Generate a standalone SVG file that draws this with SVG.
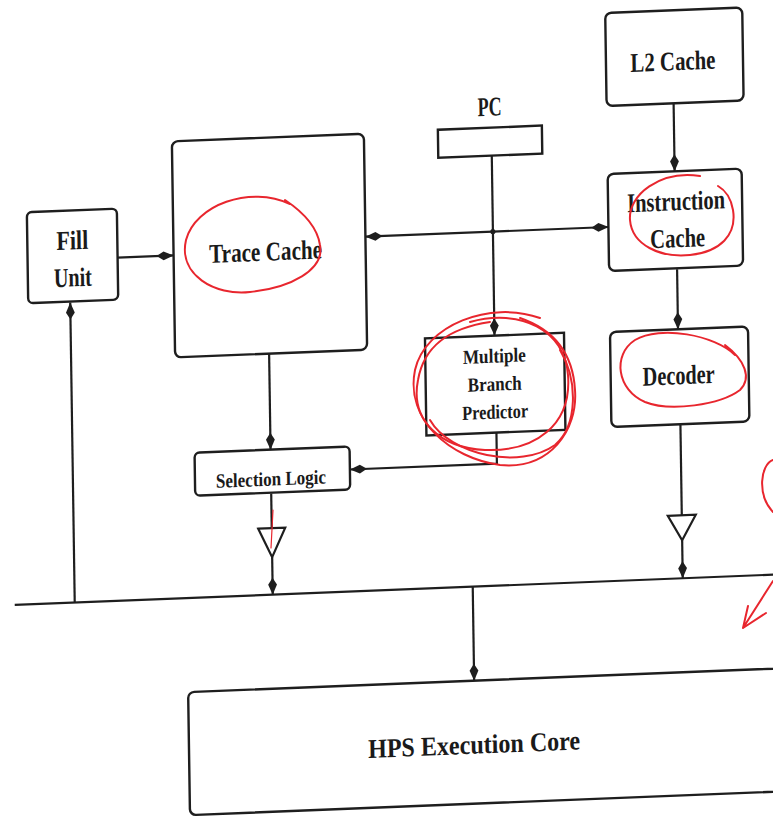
<svg xmlns="http://www.w3.org/2000/svg" width="773" height="817" viewBox="0 0 773 817">
<style>
.box{fill:#fff;stroke:#1e1e1e;stroke-width:2.4}
.ln{fill:none;stroke:#1e1e1e;stroke-width:2.2}
.lb{font-family:"Liberation Serif","Times New Roman",serif;font-weight:bold;font-size:27px;fill:#1a1a1a;text-anchor:middle}
.sm{font-size:20px}
.red{fill:none;stroke:#e8262e;stroke-width:2;stroke-linecap:round;stroke-linejoin:round}
</style>
<defs>
<marker id="ah" markerUnits="userSpaceOnUse" markerWidth="17" markerHeight="10" refX="17" refY="5" orient="auto">
<path d="M0,5 L7,0.6 L17,5 L7,9.4 Z" fill="#1e1e1e"/>
</marker>
</defs>
<rect width="773" height="817" fill="#fff"/>
<g id="diagram" transform="translate(386,408) matrix(1,-0.04,0.015,1,0,0) translate(-386,-408)">
<g id="connectors">
<line class="ln" x1="12" y1="590" x2="830" y2="590"/>
<line class="ln" x1="120" y1="247" x2="176" y2="247" marker-end="url(#ah)"/>
<line class="ln" x1="495.5" y1="236" x2="368" y2="236" marker-end="url(#ah)"/>
<line class="ln" x1="495.5" y1="236" x2="611" y2="236" marker-end="url(#ah)"/>
<circle cx="495.5" cy="236" r="2.6" fill="#1e1e1e"/>
<line class="ln" x1="495.5" y1="160" x2="495.5" y2="340" marker-end="url(#ah)"/>
<line class="ln" x1="678" y1="115" x2="678" y2="183" marker-end="url(#ah)"/>
<line class="ln" x1="679" y1="281" x2="679" y2="341" marker-end="url(#ah)"/>
<line class="ln" x1="680" y1="436" x2="680" y2="527"/>
<path class="ln" d="M666,527 L694,527 L680,552 Z"/>
<line class="ln" x1="680" y1="552" x2="680" y2="590" marker-end="url(#ah)"/>
<line class="ln" x1="270" y1="349" x2="270" y2="445" marker-end="url(#ah)"/>
<path class="ln" d="M496,437 V468 H349" marker-end="url(#ah)"/>
<line class="ln" x1="270" y1="489" x2="270" y2="523.5"/>
<path class="ln" d="M256.5,523.5 L283.5,523.5 L270,552.5 Z"/>
<line class="ln" x1="270" y1="552.5" x2="270" y2="590" marker-end="url(#ah)"/>
<line class="ln" x1="72" y1="590" x2="72" y2="290" marker-end="url(#ah)"/>
<line class="ln" x1="470" y1="590" x2="470" y2="684" marker-end="url(#ah)"/>
</g>
<g id="fill-unit">
<rect class="box" x="30" y="198" width="90" height="91" rx="5"/>
<text class="lb" x="75" y="237" textLength="32" lengthAdjust="spacingAndGlyphs">Fill</text>
<text class="lb" x="75" y="274" textLength="38" lengthAdjust="spacingAndGlyphs">Unit</text>
</g>
<g id="trace-cache">
<rect class="box" x="176" y="133" width="192" height="216" rx="6"/>
<text class="lb" x="268" y="256" textLength="113" lengthAdjust="spacingAndGlyphs">Trace Cache</text>
</g>
<g id="selection-logic">
<rect class="box" x="194" y="445" width="155" height="43" rx="5"/>
<text class="lb sm" x="270" y="481" textLength="110" lengthAdjust="spacingAndGlyphs">Selection Logic</text>
</g>
<g id="pc">
<text class="lb" x="494" y="120" textLength="24" lengthAdjust="spacingAndGlyphs">PC</text>
<rect class="box" x="442" y="132" width="104" height="28"/>
</g>
<g id="branch-predictor">
<rect class="box" x="426" y="340" width="139" height="97"/>
<text class="lb sm" x="495" y="367" textLength="63" lengthAdjust="spacingAndGlyphs">Multiple</text>
<text class="lb sm" x="495" y="395" textLength="54" lengthAdjust="spacingAndGlyphs">Branch</text>
<text class="lb sm" x="495" y="423" textLength="66" lengthAdjust="spacingAndGlyphs">Predictor</text>
</g>
<g id="l2-cache">
<rect class="box" x="611" y="22" width="137" height="93" rx="6"/>
<text class="lb" x="678" y="82" textLength="85" lengthAdjust="spacingAndGlyphs">L2 Cache</text>
</g>
<g id="instruction-cache">
<rect class="box" x="611" y="183" width="134" height="97" rx="6"/>
<text class="lb" x="679" y="222" textLength="98" lengthAdjust="spacingAndGlyphs">Instruction</text>
<text class="lb" x="680" y="259" textLength="55" lengthAdjust="spacingAndGlyphs">Cache</text>
</g>
<g id="decoder">
<rect class="box" x="611" y="341" width="138" height="95" rx="6"/>
<text class="lb" x="679" y="396" textLength="72" lengthAdjust="spacingAndGlyphs">Decoder</text>
</g>
<g id="hps-core">
<rect class="box" x="184" y="684" width="660" height="123" rx="6"/>
<text class="lb" x="469" y="757" textLength="212" lengthAdjust="spacingAndGlyphs">HPS Execution Core</text>
</g>
</g>
<g id="annotations">
<path class="red" d="M290,204 C250,185 195,205 186,240 C178,275 215,296 250,292 C290,288 325,270 320,245 C317,225 300,210 285,200"/>
<path class="red" d="M700,176 C660,170 628,195 630,220 C632,245 660,258 690,255 C720,252 737,235 733,210 C731,198 725,190 718,186"/>
<path class="red" d="M735,355 C715,335 660,325 635,340 C612,355 617,390 645,402 C670,412 720,405 740,390 C752,378 745,360 725,345"/>
<path class="red" d="M540,318 C490,300 425,325 415,370 C405,420 450,458 500,465 C550,470 578,430 575,390 C573,355 555,330 520,318"/>
<path class="red" d="M470,322 C520,308 565,330 568,375 C572,425 535,452 485,450 C440,448 410,420 418,380 C424,345 450,328 490,322"/>
<path class="red" d="M430,420 C450,455 520,470 555,445 C578,425 578,380 560,350"/>
<path class="red" d="M773,460 C760,465 757,495 773,512"/>
<path class="red" d="M773,581 L743,628 M743,628 L748,606 M743,628 L766,613"/>
<path class="red" style="stroke-width:1.2" d="M273,510 L271,548"/>
</g>
</svg>
